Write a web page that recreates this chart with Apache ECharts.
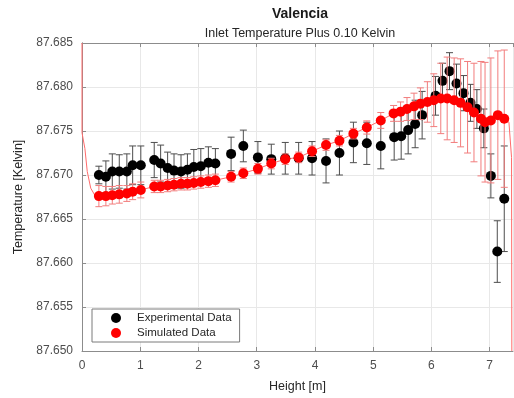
<!DOCTYPE html>
<html>
<head>
<meta charset="utf-8">
<script src="https://cdn.jsdelivr.net/npm/echarts@6/dist/echarts.min.js"></script>
<style>
  html, body { margin: 0; padding: 0; background: #fff; }
  #chart { width: 514px; height: 398px; }
</style>
</head>
<body>
<div id="chart"></div>
<script>
// experimental points (black) with +/- error
const expX = [0.29, 0.41, 0.52, 0.64, 0.77, 0.87, 1.01, 1.24, 1.35, 1.47, 1.58, 1.70, 1.81, 1.92, 2.04, 2.17, 2.29,
  2.56, 2.77, 3.02, 3.25, 3.49, 3.72, 3.95, 4.19, 4.42, 4.66, 4.89, 5.13, 5.36, 5.48, 5.60, 5.72, 5.84,
  6.07, 6.19, 6.31, 6.43, 6.55, 6.67, 6.78, 6.90, 7.02, 7.13, 7.25];
const expT = [87.6700, 87.6698, 87.6704, 87.6704, 87.6704, 87.6711, 87.6711, 87.6717, 87.6713, 87.6708, 87.6705, 87.6704,
  87.6706, 87.6709, 87.6710, 87.6714, 87.6713, 87.6724, 87.6733, 87.6720, 87.6718, 87.6719, 87.6719, 87.6719,
  87.6716, 87.6725, 87.6737, 87.6736, 87.6733, 87.6743, 87.6744, 87.6751, 87.6758, 87.6768, 87.6790, 87.6807,
  87.6818, 87.6804, 87.6793, 87.6782, 87.6775, 87.6753, 87.6699, 87.6613, 87.6673];
const expErr = [0.0010, 0.0018, 0.0020, 0.0019, 0.0020, 0.0022, 0.0022, 0.0020, 0.0021, 0.0018, 0.0019, 0.0019,
  0.0018, 0.0020, 0.0020, 0.0018, 0.0017, 0.0019, 0.0018, 0.0018, 0.0017, 0.0018, 0.0018, 0.0019,
  0.0025, 0.0025, 0.0023, 0.0024, 0.0026, 0.0026, 0.0026, 0.0027, 0.0027, 0.0027, 0.0022, 0.0020,
  0.0021, 0.0022, 0.0020, 0.0021, 0.0022, 0.0022, 0.0025, 0.0035, 0.0060];

// simulated points (red) with +/- error
const simX = [0.29, 0.41, 0.52, 0.64, 0.77, 0.87, 1.01, 1.24, 1.35, 1.47, 1.58, 1.70, 1.81, 1.92, 2.04, 2.17, 2.29,
  2.56, 2.77, 3.02, 3.25, 3.49, 3.72, 3.95, 4.19, 4.42, 4.66, 4.89, 5.13, 5.35, 5.47, 5.58, 5.70, 5.81,
  5.93, 6.04, 6.16, 6.27, 6.39, 6.50, 6.62, 6.73, 6.85, 6.92, 7.02, 7.14, 7.25];
const simT = [87.6676, 87.6676, 87.6677, 87.6678, 87.6679, 87.6681, 87.6683, 87.6687, 87.6687, 87.6688, 87.6689, 87.6690,
  87.6690, 87.6691, 87.6692, 87.6693, 87.6694, 87.6698, 87.6702, 87.6707, 87.6713, 87.6718, 87.6720, 87.6727,
  87.6734, 87.6739, 87.6747, 87.6754, 87.6762, 87.6770, 87.6772, 87.6775, 87.6778, 87.6781, 87.6783, 87.6785,
  87.6787, 87.6787, 87.6785, 87.6782, 87.6777, 87.6771, 87.6764, 87.6760, 87.6762, 87.6768, 87.6764];
const simErr = [0.0012, 0.0011, 0.0010, 0.0010, 0.0009, 0.0009, 0.0009, 0.0007, 0.0007, 0.0007, 0.0007, 0.0007,
  0.0007, 0.0007, 0.0007, 0.0007, 0.0007, 0.0006, 0.0006, 0.0006, 0.0006, 0.0006, 0.0006, 0.0006,
  0.0006, 0.0006, 0.0006, 0.00075, 0.0009, 0.0009, 0.0011, 0.0013, 0.0015, 0.0018, 0.0023, 0.0030,
  0.0040, 0.0047, 0.0048, 0.0050, 0.0052, 0.0056, 0.0065, 0.0068, 0.0071, 0.0073, 0.0078];

// thin simulated curve: start and end pieces outside the marker range
const simLineHead = [[0, 87.685], [0.0, 87.6748], [0.05, 87.6730], [0.09, 87.6704], [0.15, 87.6685], [0.22, 87.6677]];
const simLineTail = [[7.33, 87.6760], [7.375, 87.6720], [7.38, 87.650]];

const yTicks = ['87.650', '87.655', '87.660', '87.665', '87.670', '87.675', '87.680', '87.685'];

const FONT = '"Liberation Sans", Arial, Helvetica, sans-serif';

const pts = (xs, ys) => xs.map((x, i) => [x, ys[i]]);
const bars = (xs, ys, es) => xs.map((x, i) => [x, ys[i] - es[i], ys[i] + es[i]]);

const errorBar = (color, half) => (params, api) => {
  const top = api.coord([api.value(0), api.value(2)]);
  const bot = api.coord([api.value(0), api.value(1)]);
  const style = { stroke: color, lineWidth: 1 };
  return {
    type: 'group',
    children: [
      { type: 'line', shape: { x1: top[0], y1: top[1], x2: bot[0], y2: bot[1] }, style },
      { type: 'line', shape: { x1: top[0] - half, y1: top[1], x2: top[0] + half, y2: top[1] }, style },
      { type: 'line', shape: { x1: bot[0] - half, y1: bot[1], x2: bot[0] + half, y2: bot[1] }, style }
    ]
  };
};

const chart = echarts.init(document.getElementById('chart'), null, { renderer: 'canvas' });

const axisLine = { show: true, lineStyle: { color: '#8c8c8c', width: 1 } };
const axisTick = { show: true, inside: true, length: 4, lineStyle: { color: '#8c8c8c' } };

chart.setOption({
  animation: false,
  textStyle: { fontFamily: FONT },
  title: [
    { text: 'Valencia', left: 300, top: 7, textAlign: 'center', padding: 0,
      textStyle: { fontSize: 14, fontWeight: 'bold', color: '#1a1a1a', fontFamily: FONT } },
    { text: 'Inlet Temperature Plus 0.10 Kelvin', left: 300, top: 27, textAlign: 'center', padding: 0,
      textStyle: { fontSize: 12.5, fontWeight: 'normal', color: '#262626', fontFamily: FONT } }
  ],
  grid: { left: 82, right: 1, top: 43, bottom: 45 },
  legend: {
    data: ['Experimental Data', 'Simulated Data'],
    orient: 'vertical', left: 92, top: 309,
    itemWidth: 32, itemHeight: 10, itemGap: 3,
    padding: [3, 8, 3, 19],
    borderColor: '#7a7a7a', borderWidth: 1, backgroundColor: '#fff',
    icon: 'circle', selectedMode: false,
    textStyle: { fontSize: 11.5, color: '#262626', fontFamily: FONT }
  },
  xAxis: [
    {
      type: 'value', min: 0, max: 7.4, interval: 1, position: 'bottom',
      name: 'Height [m]', nameLocation: 'middle', nameGap: 29,
      nameTextStyle: { fontSize: 12.5, color: '#262626', fontFamily: FONT },
      axisLine, axisTick,
      axisLabel: { fontSize: 12, color: '#4d4d4d', margin: 9, showMaxLabel: false, fontFamily: FONT },
      splitLine: { show: true, lineStyle: { color: '#e8e8e8' } }
    },
    {
      type: 'value', min: 0, max: 7.4, interval: 1, position: 'top',
      axisLine, axisTick, axisLabel: { show: false }, splitLine: { show: false }
    }
  ],
  yAxis: [
    {
      type: 'value', min: 87.650, max: 87.685, interval: 0.005,
      name: 'Temperature [Kelvin]', nameLocation: 'middle', nameGap: 50,
      nameTextStyle: { fontSize: 12.5, color: '#262626', fontFamily: FONT },
      axisLine, axisTick,
      axisLabel: { fontSize: 12, color: '#4d4d4d', margin: 9, fontFamily: FONT,
        formatter: v => yTicks.find(t => Math.abs(+t - v) < 1e-6) || v.toFixed(3) },
      splitLine: { show: true, lineStyle: { color: '#e8e8e8' } }
    },
    {
      type: 'value', min: 87.650, max: 87.685, interval: 0.005, position: 'right',
      axisLine, axisTick: { show: false }, axisLabel: { show: false }, splitLine: { show: false }
    }
  ],
  series: [
    {
      type: 'line', data: simLineHead.concat(pts(simX, simT), simLineTail),
      showSymbol: false, silent: true, z: 1,
      lineStyle: { color: '#ff6b6b', width: 1 }
    },
    {
      type: 'custom', data: bars(expX, expT, expErr), renderItem: errorBar('#4d4d4d', 3.5),
      clip: true, silent: true, z: 2
    },
    {
      name: 'Experimental Data', type: 'scatter', data: pts(expX, expT),
      symbol: 'circle', symbolSize: 10, itemStyle: { color: '#000000', opacity: 1 }, z: 3
    },
    {
      type: 'custom', data: bars(simX, simT, simErr), renderItem: errorBar('#f27c7c', 3.5),
      clip: true, silent: true, z: 4
    },
    {
      name: 'Simulated Data', type: 'scatter', data: pts(simX, simT),
      symbol: 'circle', symbolSize: 10, itemStyle: { color: '#ff0000', opacity: 1 }, z: 5
    }
  ]
});
</script>
</body>
</html>
